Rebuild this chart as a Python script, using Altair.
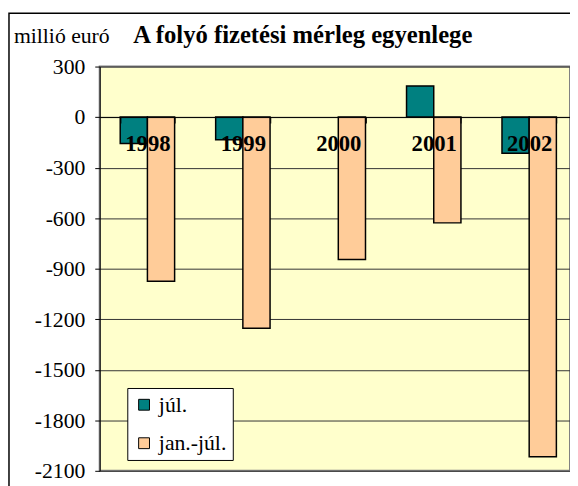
import altair as alt
import pandas as pd

years = ["1998", "1999", "2000", "2001", "2002"]
series_names = ["júl.", "jan.-júl."]
jul = [-157, -134, None, 185, -214]
jan_jul = [-974, -1254, -846, -628, -2017]
y_ticks = [300, 0, -300, -600, -900, -1200, -1500, -1800, -2100]
colors = ["#008080", "#FFCC99"]

rows = []
for i, yr in enumerate(years):
    rows.append({"year": yr, "series": series_names[0], "value": jul[i]})
    rows.append({"year": yr, "series": series_names[1], "value": jan_jul[i]})
df = pd.DataFrame(rows)

PLOT_W = 477
PLOT_H = 410
SERIF = "Times New Roman"

zero_px = 300 / 2400 * PLOT_H

bars = alt.Chart(df).mark_bar(stroke="black", strokeWidth=1.5).encode(
    x=alt.X(
        "year:N",
        sort=years,
        scale=alt.Scale(domain=years, range=[0, 484], paddingInner=0.43, paddingOuter=0.215),
        axis=alt.Axis(
            orient="bottom",
            offset=-(PLOT_H - zero_px),
            title=None,
            labelAngle=0,
            labelFont=SERIF,
            labelFontSize=23,
            labelFontWeight="bold",
            labelColor="black",
            labelBaseline="alphabetic",
            labelPadding=28,
            tickBand="extent",
            tickSize=6,
            tickColor="black",
            domainColor="black",
            domainWidth=1,
            grid=False,
            zindex=1,
        ),
    ),
    xOffset=alt.XOffset("series:N", sort=series_names, scale=alt.Scale(paddingInner=0, paddingOuter=0)),
    y=alt.Y(
        "value:Q",
        scale=alt.Scale(domain=[-2100, 300], nice=False, zero=False),
        axis=alt.Axis(
            values=y_ticks,
            labelExpr="'' + datum.value",
            title=None,
            labelFont=SERIF,
            labelFontSize=22,
            labelFontWeight="normal",
            labelColor="black",
            labelPadding=10,
            tickSize=5,
            tickColor="black",
            domainColor="black",
            grid=True,
            gridColor="#333333",
            gridWidth=1,
        ),
    ),
    color=alt.Color(
        "series:N",
        sort=series_names,
        scale=alt.Scale(domain=series_names, range=colors),
        legend=alt.Legend(
            title=None,
            orient="none",
            legendX=28,
            legendY=326,
            fillColor="white",
            strokeColor="black",
            padding=6,
            rowPadding=17,
            symbolType="square",
            symbolSize=121,
            symbolStrokeColor="black",
            symbolStrokeWidth=1,
            symbolOpacity=1,
            labelFont=SERIF,
            labelFontSize=22,
            labelFontWeight="normal",
            labelColor="black",
            labelOffset=4,
        ),
    ),
)

unit_txt = alt.Chart(pd.DataFrame({"t": ["millió euró"]})).mark_text(
    font=SERIF, fontSize=22, align="left", baseline="alphabetic", color="black"
).encode(text="t:N", x=alt.value(-87), y=alt.value(-24))

title_txt = alt.Chart(pd.DataFrame({"t": ["A folyó fizetési mérleg egyenlege"]})).mark_text(
    font=SERIF, fontSize=25, fontWeight="bold", align="left", baseline="alphabetic", color="black"
).encode(text="t:N", x=alt.value(34), y=alt.value(-24))

frame = alt.Chart(pd.DataFrame({"a": [0]})).mark_rect(
    fillOpacity=0, stroke="black", strokeWidth=1.5
).encode(x=alt.value(-92), x2=alt.value(620), y=alt.value(-54), y2=alt.value(440))

chart = alt.layer(frame, bars, unit_txt, title_txt).properties(
    width=PLOT_W,
    height=PLOT_H,
    autosize=alt.AutoSizeParams(type="none"),
    padding={"left": 93, "top": 56, "right": 0, "bottom": 12},
    background="white",
).configure(
    font=SERIF
).configure_view(
    fill="#FFFFCC", stroke="#808080", strokeWidth=2
)

chart.save("out.html", embed_options={"renderer": "svg", "actions": False})
